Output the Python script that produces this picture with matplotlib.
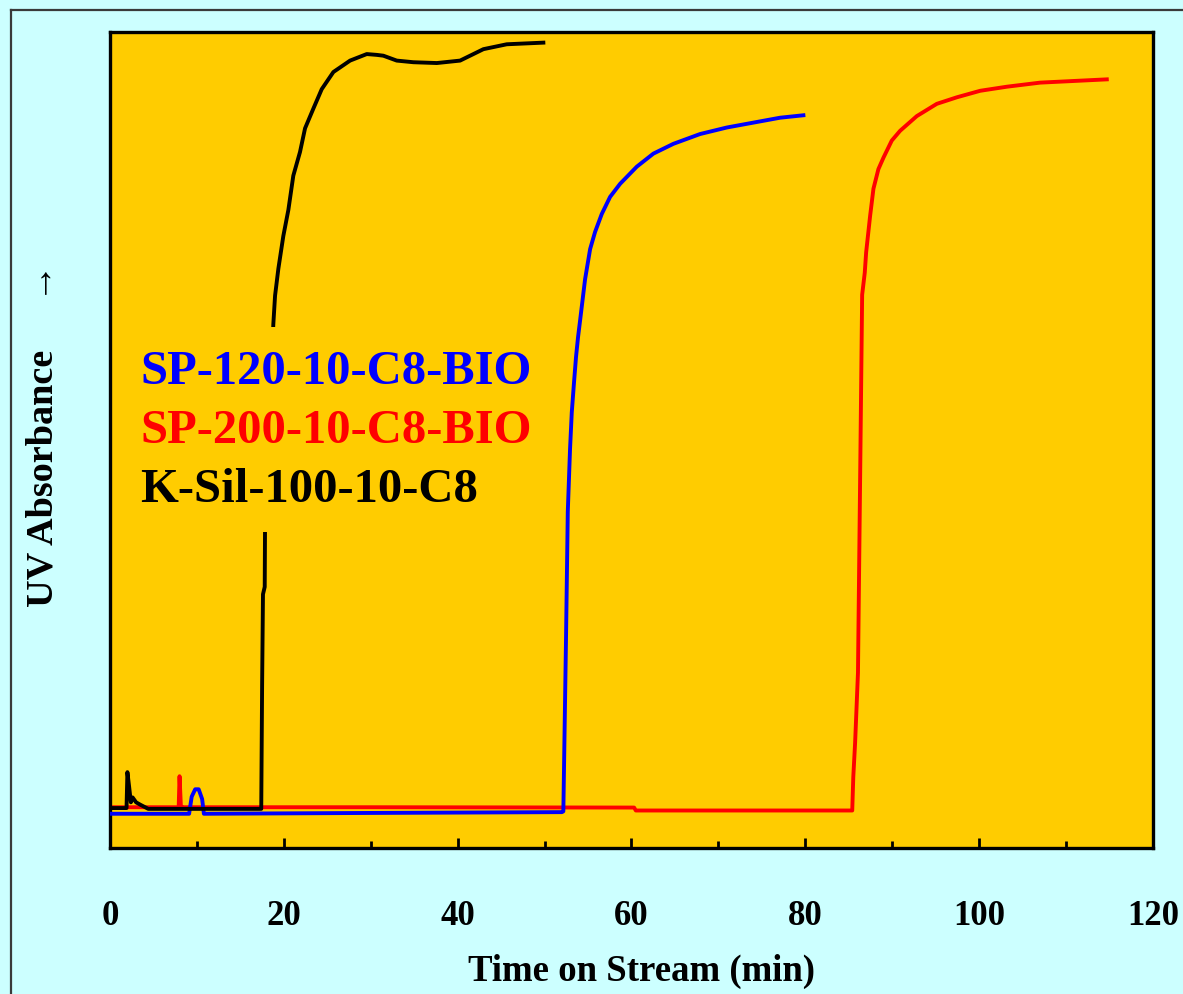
import numpy as np
import matplotlib
matplotlib.use("Agg")
import matplotlib.pyplot as plt
from matplotlib.lines import Line2D
from matplotlib.ticker import MultipleLocator

plt.rcParams['font.family'] = ['Liberation Serif', 'DejaVu Serif']
plt.rcParams['font.weight'] = 'bold'

# breakthrough curves (time in min, absorbance in arbitrary units 0-100)
ksil_t = [0.0, 1.9, 2.0, 2.2, 2.4, 2.6, 3.0, 3.5, 4.4, 10.0, 17.4, 17.5, 17.6, 17.8, 17.84,
          18.79, 18.99, 19.37, 19.94, 20.52, 21.09, 21.86, 22.44, 23.39, 24.36, 25.70,
          27.62, 29.54, 30.69, 31.45, 32.99, 34.90, 37.60, 40.28, 42.96, 45.65, 49.86]
ksil_y = [4.9, 4.9, 9.3, 7.5, 5.6, 6.2, 5.6, 5.3, 4.8, 4.8, 4.8, 20.0, 31.1, 32.0, 40.3,
          64.2, 67.7, 71.0, 75.0, 78.2, 82.4, 85.3, 88.2, 90.6, 93.0, 95.1,
          96.5, 97.3, 97.2, 97.1, 96.5, 96.3, 96.2, 96.5, 97.9, 98.5, 98.7]

sp120_t = [0.0, 9.1, 9.4, 9.8, 10.2, 10.6, 10.8, 30.0, 52.0, 52.16, 52.47, 52.67, 52.93, 53.13,
           53.39, 53.62, 53.85, 54.08, 54.66, 55.24, 55.81, 56.58, 57.54, 58.69, 60.61,
           62.52, 64.82, 67.89, 70.97, 74.03, 77.10, 79.78]
sp120_y = [4.2, 4.2, 6.3, 7.2, 7.2, 6.0, 4.2, 4.3, 4.4, 4.5, 25.9, 41.2, 48.9, 53.4,
           57.1, 60.2, 62.6, 64.6, 69.7, 73.4, 75.5, 77.7, 79.8, 81.4, 83.5,
           85.1, 86.3, 87.5, 88.3, 88.9, 89.5, 89.8]

sp200_t = [0.0, 7.9, 8.0, 8.15, 8.3, 30.0, 60.3, 60.5, 75.0, 85.4, 85.52, 85.73, 86.06, 86.35,
           86.54, 86.84, 87.00, 87.46, 87.84, 88.41, 88.99, 89.95, 90.91, 92.83, 95.13,
           97.43, 100.12, 103.19, 107.02, 110.85, 114.69]
sp200_y = [5.0, 5.0, 8.8, 5.2, 5.0, 5.0, 4.96, 4.6, 4.6, 4.6, 8.7, 12.9, 21.5, 49.4,
           67.8, 70.5, 73.0, 77.5, 80.8, 83.2, 84.6, 86.7, 87.9, 89.7, 91.2,
           92.0, 92.8, 93.3, 93.8, 94.0, 94.2]

labels = ['SP-120-10-C8-BIO', 'SP-200-10-C8-BIO', 'K-Sil-100-10-C8']
colors = ['#0000FF', '#FF0000', '#000000']
x_ticks = [0, 20, 40, 60, 80, 100, 120]

fig = plt.figure(figsize=(11.83, 9.95), dpi=100, facecolor='#CCFFFF')
ax = fig.add_axes([0.093, 0.1467, 0.8816, 0.8201])
ax.set_facecolor('#FFCC00')

lw = 2.8
ax.plot(sp120_t, sp120_y, color=colors[0], lw=lw, label=labels[0], zorder=3)
ax.plot(sp200_t, sp200_y, color=colors[1], lw=lw, label=labels[1], zorder=2)
ax.plot(ksil_t, ksil_y, color=colors[2], lw=lw, label=labels[2], zorder=4)

ax.set_xlim(0, 120)
ax.set_ylim(0, 100)
ax.set_xticks(x_ticks)
ax.xaxis.set_minor_locator(MultipleLocator(10))
ax.set_yticks([])
ax.tick_params(axis='x', which='major', direction='in', length=7, width=2,
               labelsize=25, pad=37)
ax.tick_params(axis='x', which='minor', direction='in', length=5, width=2)
for lab in ax.get_xticklabels():
    lab.set_fontweight('bold')
for sp in ax.spines.values():
    sp.set_linewidth(2.4)

ax.set_xlabel('Time on Stream (min)', fontsize=26.5, fontweight='bold', labelpad=15, x=0.51)
ax.set_ylabel('UV Absorbance     \u2192', fontsize=27.5, fontweight='bold', labelpad=36, y=0.507)

leg = ax.legend(loc='upper left', bbox_to_anchor=(0.008, 0.638), borderaxespad=0,
                handlelength=0, handletextpad=0, labelspacing=0.3, borderpad=0.45,
                frameon=True, fancybox=False, framealpha=1, facecolor='#FFCC00',
                edgecolor='none', labelcolor='linecolor', prop={'weight': 'bold', 'size': 35})
for h in leg.legend_handles:
    h.set_visible(False)

# thin frame line of the figure (left and top)
fig.add_artist(Line2D([0.0093, 0.0093], [0, 0.989], transform=fig.transFigure,
                      color='#3a3a3a', lw=1.6))
fig.add_artist(Line2D([0.0093, 1.0], [0.989, 0.989], transform=fig.transFigure,
                      color='#3a3a3a', lw=1.6))

fig.savefig('out.png', dpi=100, facecolor=fig.get_facecolor())
